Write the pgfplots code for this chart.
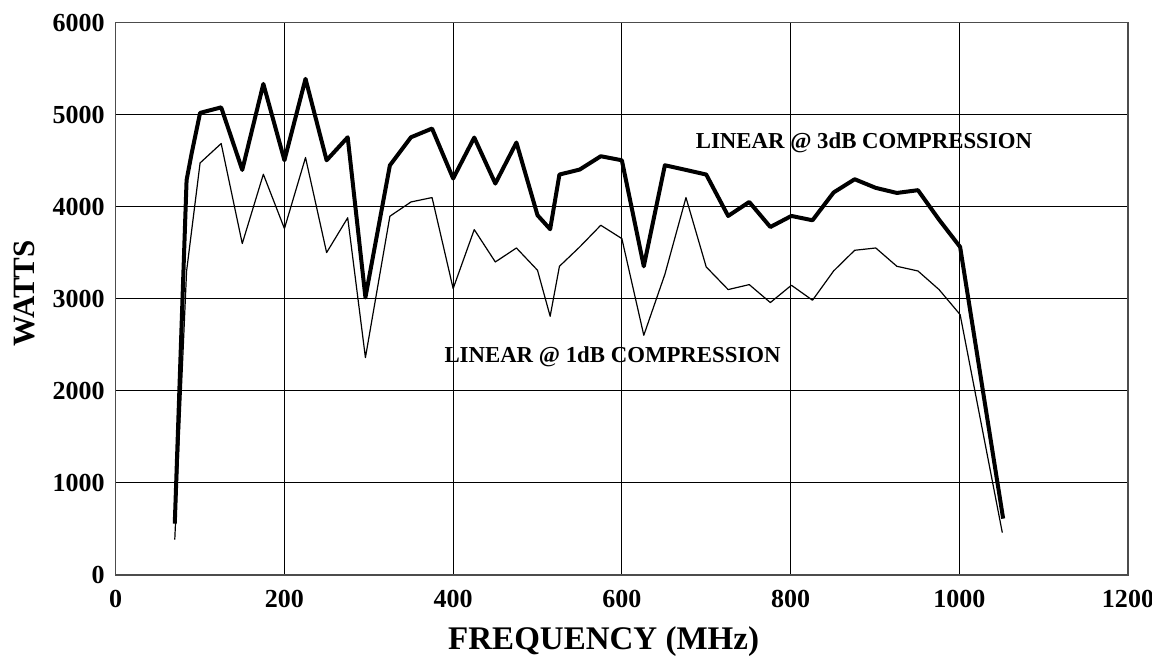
\documentclass[border=0pt]{standalone}
\usepackage{fontspec}
\setmainfont{Liberation Serif}
\usepackage{pgfplots}
\pgfplotsset{compat=1.18}

\begin{document}
\begin{tikzpicture}
\begin{axis}[
  scale only axis,
  width=506pt, height=276pt,
  xmin=0, xmax=1200, ymin=0, ymax=6000,
  xtick={0,200,...,1200},
  ytick={0,1000,...,6000},
  scaled ticks=false,
  /pgf/number format/assume math mode=true,
  /pgf/number format/set thousands separator={},
  tick label style={font=\fontsize{13}{15}\selectfont\bfseries},
  xticklabel style={yshift=-4pt},
  yticklabel style={xshift=-2pt},
  major tick length=0pt,
  grid=major,
  grid style={black, line width=0.5pt},
  axis line style={black!70, line width=0.7pt},
  xlabel={FREQUENCY (MHz)},
  ylabel={WATTS},
  xlabel style={font=\fontsize{16.5}{18}\selectfont\bfseries,
    at={(axis description cs:0.482,-0.12)}, anchor=center},
  ylabel style={font=\fontsize{15.5}{17}\selectfont\bfseries,
    at={(axis description cs:-0.0897,0.51)}, anchor=center},
]
\coordinate (sw) at (rel axis cs:0,0);
\coordinate (ne) at (rel axis cs:1,1);

% LINEAR @ 3dB COMPRESSION
\addplot[black, line width=2pt, line join=round] coordinates {
(70,556) (84,4290) (90,4580) (100,5020) (125,5080) (150,4400)
(175,5335) (200,4505) (225,5390) (250,4505) (275,4755) (296,3015)
(325,4450) (350,4755) (375,4850) (400,4307) (425,4752) (450,4252)
(475,4698) (500,3908) (515,3756) (526,4350) (550,4404) (575,4549)
(600,4505) (626,3353) (651,4451) (676,4400) (700,4350) (726,3900)
(751,4052) (776,3780) (801,3900) (826,3853) (851,4155) (876,4299)
(901,4205) (926,4150) (951,4180) (976,3860) (1001,3563) (1052,611)
};

% LINEAR @ 1dB COMPRESSION
\addplot[black, line width=0.6pt, line join=round] coordinates {
(70,383) (84,3300) (100,4476) (125,4687) (150,3600) (175,4353)
(200,3763) (225,4535) (250,3502) (275,3880) (296,2361) (325,3897)
(350,4052) (375,4100) (400,3111) (425,3752) (450,3400) (475,3552)
(500,3310) (515,2810) (526,3353) (550,3563) (575,3799) (600,3654)
(626,2603) (651,3266) (676,4100) (700,3346) (726,3100) (751,3154)
(776,2959) (801,3147) (826,2984) (851,3302) (876,3527) (901,3552)
(926,3353) (951,3302) (976,3100) (1001,2828) (1051,459)
};

\node[font=\fontsize{11.4}{13}\selectfont\bfseries] at (axis cs:887,4700) {LINEAR @ 3dB COMPRESSION};
\node[font=\fontsize{11.4}{13}\selectfont\bfseries] at (axis cs:589,2367) {LINEAR @ 1dB COMPRESSION};
\end{axis}
\pgfresetboundingbox
\path[use as bounding box] ([xshift=-57.85pt,yshift=-41.25pt]sw) rectangle ([xshift=12pt,yshift=11.35pt]ne);
\end{tikzpicture}
\end{document}
